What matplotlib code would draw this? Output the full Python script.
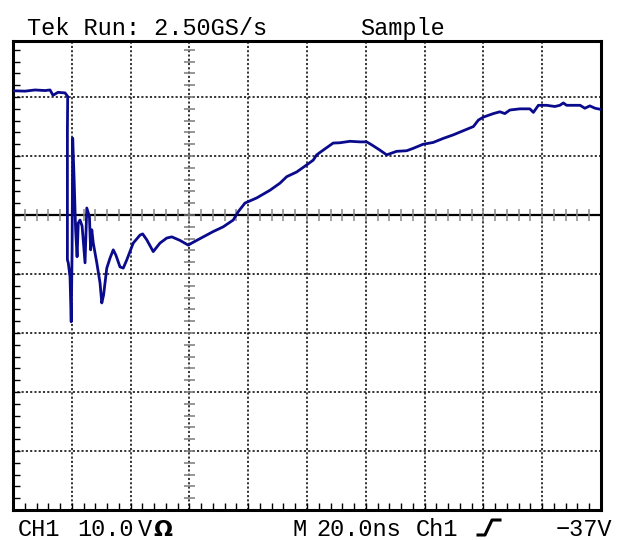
import numpy as np
import matplotlib
matplotlib.use("Agg")
import matplotlib.pyplot as plt
from matplotlib.lines import Line2D

# ---- data (time in ns relative to trigger, voltage in V) ----
time_ns = [-60.0, -55.9, -52.5, -49.1, -47.4, -46.4, -44.7, -42.3, -41.4, -41.5,
           -41.5, -41.5, -41.2, -40.6, -40.4, -40.2, -39.9, -39.7, -39.2, -38.7,
           -38.2, -37.8, -37.2, -36.5, -35.5, -34.9, -34.0, -33.6, -33.2, -32.7,
           -31.5, -30.4, -29.8, -29.2, -28.1, -27.0, -25.9, -25.0, -23.6, -22.5,
           -21.3, -19.1, -16.8, -15.9, -14.5, -12.3, -10.0, -7.7, -6.0, -3.2,
           -0.4, 0.8, 3.6, 8.1, 11.5, 14.9, 16.6, 18.9, 22.9, 27.4,
           30.8, 33.1, 36.5, 39.9, 42.1, 43.3, 45.5, 48.9, 51.2, 54.6,
           58.0, 60.3, 62.0, 64.8, 67.1, 70.5, 73.9, 76.1, 79.5, 82.9,
           86.4, 89.8, 93.2, 96.6, 98.3, 100.0, 103.4, 105.6, 107.3, 109.0,
           112.4, 115.8, 117.0, 118.7, 121.5, 124.3, 126.0, 127.2, 128.3, 130.6,
           132.9, 134.5, 136.2, 138.0, 140.0]
volts = [21.07, 21.0, 21.2, 21.1, 21.2, 20.3, 20.8, 20.7, 20.1, 14.4,
         2.5, -7.6, -8.1, -10.5, -14.4, -18.1, -5.9, 13.05, 5.9, -2.5,
         -7.07, -1.36, -0.85, -1.86, -8.1, 1.19, -0.29, -5.9, -2.5, -4.75,
         -8.1, -11.5, -14.9, -13.6, -9.0, -7.3, -5.9, -6.8, -8.8, -9.0,
         -7.6, -4.75, -3.4, -3.2, -4.2, -6.2, -4.75, -3.9, -3.7, -4.3,
         -5.1, -4.75, -4.0, -2.8, -2.0, -0.85, 0.56, 2.03, 2.9, 4.2,
         5.4, 6.5, 7.3, 8.5, 9.3, 10.2, 11.0, 12.2, 12.25, 12.5,
         12.4, 12.4, 11.9, 11.0, 10.2, 10.8, 10.9, 11.3, 12.0, 12.3,
         13.0, 13.6, 14.3, 15.0, 16.1, 16.6, 17.2, 17.5, 17.2, 17.8,
         18.0, 18.0, 17.4, 18.6, 18.6, 18.4, 18.6, 19.0, 18.6, 18.6,
         18.6, 18.1, 18.5, 18.1, 17.9]

header_left = "Tek Run: 2.50GS/s"
header_right = "Sample"
footer_ch = "CH1"
footer_scale = "10.0"
footer_unit = "VΩ"
footer_m = "M"
footer_time = "20.0ns"
footer_src = "Ch1"
footer_level = "\u221237V"

# ---- layout ----
W, H = 621, 540
fig = plt.figure(figsize=(W / 100, H / 100), dpi=100)
fig.patch.set_facecolor("white")
L, R, T, B = 13, 601, 41, 510
ax = fig.add_axes([L / W, (H - B) / H, (R - L) / W, (B - T) / H])
ax.set_xlim(-60, 140)
ax.set_ylim(-50, 29.5)
ax.set_facecolor("white")

# frame
for side in ["left", "right", "top", "bottom"]:
    ax.spines[side].set_linewidth(2.2)
    ax.spines[side].set_color("black")

ax.set_xticks(np.arange(-60, 141, 4))
ax.set_yticks(np.arange(-50, 29.5, 2))
ax.tick_params(axis="both", which="major", direction="in", length=5,
               width=1.0, color="black", labelleft=False, labelbottom=False,
               left=True, bottom=True, top=False, right=False)

# dotted graticule
dot = (0, (1.4, 1.4))
for t in np.arange(-40, 140, 20):
    ax.axvline(t, color="black", lw=1.1, ls=dot, zorder=1)
for v in np.arange(-40, 29, 10):
    if v != 0:
        ax.axhline(v, color="black", lw=1.1, ls=dot, zorder=1)
ax.axhline(0, color="black", lw=1.6, zorder=1)

# minor ticks on centre axes
tv = np.arange(-60, 141, 4)
ax.vlines(tv, -0.95, 0.95, color="#8a8a8a", lw=1.1, zorder=1.5)
vv = np.arange(-50, 29.5, 2)
ax.hlines(vv, -1.9, 1.9, color="#7a7a7a", lw=1.1, zorder=1.5)

# waveform
ax.plot(time_ns, volts, color="#0a0a8c", lw=2.0, solid_joinstyle="round",
        zorder=3, clip_on=True)

# ---- text ----
font = dict(family="Liberation Mono", size=17, color="black", va="baseline")
def px_text(x, y, s, **kw):
    d = dict(font)
    d.update(kw)
    fig.text(x / W, 1 - y / H, s, **d)

px_text(27, 35, header_left)
px_text(360, 35, header_right)
px_text(18, 536, footer_ch)
px_text(77, 536, footer_scale)
px_text(138, 536, footer_unit[0])
px_text(153, 536, footer_unit[1], family="DejaVu Sans", weight="bold", size=16)
px_text(292, 536, footer_m)
px_text(316, 536, footer_time)
px_text(416, 536, footer_src)
px_text(612, 536, footer_level, ha="right")

# rising-edge trigger symbol
xs = np.array([478, 485, 492, 500]) / W
ys = 1 - np.array([535, 535, 520, 520]) / H
fig.add_artist(Line2D(xs, ys, color="black", lw=2.2, transform=fig.transFigure))

fig.savefig("out.png", dpi=100, facecolor="white")
